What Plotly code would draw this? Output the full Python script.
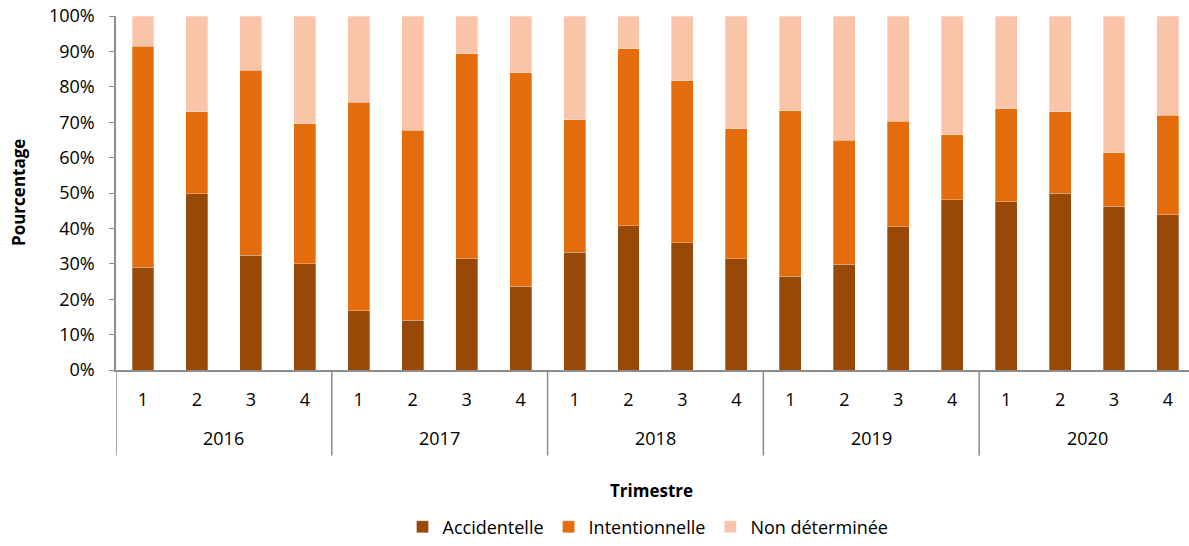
import plotly.graph_objects as go

years = ["2016", "2017", "2018", "2019", "2020"]
quarters = ["1", "2", "3", "4"]

accidentelle = [29.0, 49.8, 32.4, 30.0,
                16.8, 14.0, 31.4, 23.6,
                33.2, 40.7, 36.0, 31.4,
                26.5, 29.9, 40.5, 48.1,
                47.6, 49.9, 46.2, 43.9]
intentionnelle = [62.4, 23.1, 52.3, 39.5,
                  58.9, 53.7, 58.0, 60.3,
                  37.5, 50.1, 45.7, 36.8,
                  46.8, 35.0, 29.7, 18.4,
                  26.2, 23.1, 15.2, 28.0]
non_determinee = [100 - a - b for a, b in zip(accidentelle, intentionnelle)]

n = len(years) * len(quarters)
xpos = list(range(n))
qlabels = [q for _ in years for q in quarters]

font = "'Open Sans', sans-serif"
FS = 18
fig = go.Figure()
for name, vals, col in [("Accidentelle", accidentelle, "#984807"),
                        ("Intentionnelle", intentionnelle, "#E46C0A"),
                        ("Non déterminée", non_determinee, "#FAC4A9")]:
    fig.add_trace(go.Bar(x=xpos, y=[v / 100 for v in vals], name=name,
                         marker=dict(color=col, line=dict(color="rgba(255,255,255,0.5)", width=0.6))))

H = 356.0  # plot height px
def py(pix):
    return (372 - pix) / H

PW = 1073.0
annotations = []
for i, y in enumerate(years):
    annotations.append(dict(x=i * 4 + 1.5, y=py(440), xref="x", yref="paper", text=y,
                            showarrow=False, font=dict(size=FS), yanchor="middle"))
annotations.append(dict(x=(18 - 116) / PW, y=0.5, xref="paper", yref="paper",
                        text="<b>Pourcentage</b>", textangle=-90, showarrow=False,
                        font=dict(size=17), xanchor="center", yanchor="middle"))
annotations.append(dict(x=(651 - 116) / PW, y=py(493), xref="paper", yref="paper",
                        text="<b>Trimestre</b>", showarrow=False,
                        font=dict(size=17), xanchor="center", yanchor="middle"))

shapes = []
for k in range(len(years) + 1):
    shapes.append(dict(type="line", xref="x", yref="paper", x0=k * 4 - 0.5, x1=k * 4 - 0.5,
                       y0=0, y1=py(458), line=dict(color="#8c8c8c", width=1.5)))

fig.update_layout(
    barmode="stack", bargap=0.593,
    width=1189, height=546,
    margin=dict(l=116, r=0, t=16, b=174),
    plot_bgcolor="white", paper_bgcolor="white",
    font=dict(family=font, size=FS, color="black"),
    legend=dict(orientation="h", x=(648 - 116) / PW, xanchor="center", y=py(530), yanchor="middle",
                font=dict(size=FS), itemwidth=30, traceorder="normal"),
    annotations=annotations, shapes=shapes,
)
fig.update_yaxes(range=[0, 1], tickformat=".0%", dtick=0.1, showgrid=False, zeroline=False,
                 showline=True, linecolor="#8c8c8c", linewidth=1.5, automargin=False,
                 ticks="outside", ticklen=5, tickcolor="#8c8c8c", ticklabelstandoff=11,
                 tickfont=dict(size=FS))
fig.update_xaxes(range=[-0.5, 19.39], tickvals=xpos, ticktext=qlabels, showgrid=False,
                 zeroline=False, showline=True, linecolor="#8c8c8c", linewidth=1.5,
                 ticks="", ticklabelstandoff=13, automargin=False, tickfont=dict(size=FS))

fig.write_html("out.html", config={"displayModeBar": False},
               post_script="document.body.style.margin='0';document.body.style.overflow='hidden';")
